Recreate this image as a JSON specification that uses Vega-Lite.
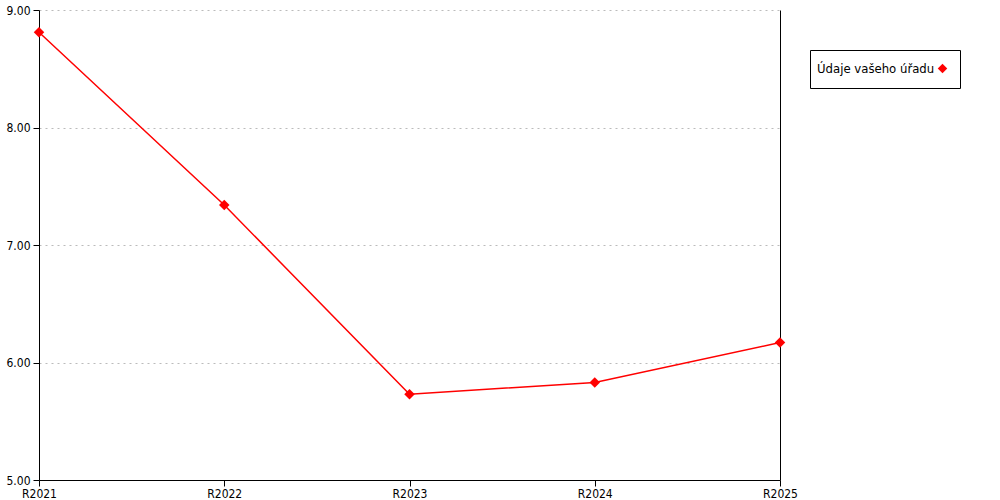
{
  "$schema": "https://vega.github.io/schema/vega-lite/v6.json",
  "width": 741,
  "height": 470,
  "autosize": {"type": "none"},
  "padding": {"left": 39, "top": 10, "right": 220, "bottom": 20},
  "background": "white",
  "data": {
    "values": [
      {"rok": "R2021", "hodnota": 8.81},
      {"rok": "R2022", "hodnota": 7.34},
      {"rok": "R2023", "hodnota": 5.73},
      {"rok": "R2024", "hodnota": 5.83},
      {"rok": "R2025", "hodnota": 6.17}
    ]
  },
  "config": {
    "view": {"stroke": null},
    "font": "DejaVu Sans Condensed",
    "axis": {
      "labelFont": "DejaVu Sans Condensed",
      "labelFontSize": 12,
      "labelColor": "#000000",
      "domainColor": "#000000",
      "tickColor": "#000000",
      "domainWidth": 1,
      "tickWidth": 1
    }
  },
  "encoding": {
    "x": {
      "field": "rok",
      "type": "ordinal",
      "sort": null,
      "scale": {"type": "point", "padding": 0},
      "axis": {"title": null, "labelAngle": 0, "tickSize": 6, "labelPadding": 2, "grid": false}
    }
  },
  "layer": [
    {
      "mark": {"type": "line", "color": "#ff0000", "strokeWidth": 1.5},
      "encoding": {
        "y": {
          "field": "hodnota",
          "type": "quantitative",
          "scale": {"domain": [5, 9], "nice": false, "zero": false},
          "axis": {
            "title": null,
            "values": [5, 6, 7, 8, 9],
            "format": ".2f",
            "tickSize": 6,
            "labelPadding": 3,
            "grid": true,
            "gridColor": "#bbbbbb",
            "gridDash": [2, 4],
            "gridWidth": 1
          }
        }
      }
    },
    {
      "mark": {"type": "point", "shape": "diamond", "filled": true, "size": 110, "opacity": 1},
      "encoding": {
        "y": {
          "field": "hodnota",
          "type": "quantitative",
          "scale": {"domain": [5, 9], "nice": false, "zero": false},
          "axis": {"title": null, "orient": "right", "labels": false, "ticks": false, "grid": false, "domainColor": "#000000"}
        },
        "color": {
          "datum": "Údaje vašeho úřadu",
          "type": "nominal",
          "scale": {"range": ["#ff0000"]},
          "legend": {
            "title": null,
            "orient": "none",
            "legendX": 771,
            "legendY": 40,
            "strokeColor": "#000000",
            "fillColor": "#ffffff",
            "padding": 12,
            "labelFontSize": 13,
            "labelFont": "DejaVu Sans Condensed",
            "labelColor": "#000000",
            "labelOffset": -132,
            "symbolOffset": 114,
            "symbolType": "diamond",
            "symbolSize": 90
          }
        }
      }
    }
  ],
  "resolve": {"axis": {"y": "independent"}}
}
